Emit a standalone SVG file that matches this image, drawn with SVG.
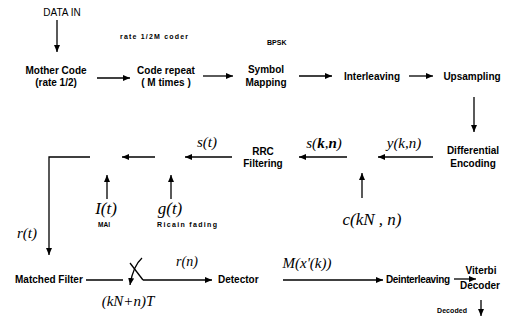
<svg xmlns="http://www.w3.org/2000/svg" width="505" height="322" viewBox="0 0 505 322">
  <defs>
    <marker id="ah" markerUnits="userSpaceOnUse" markerWidth="8" markerHeight="6" refX="7" refY="3" orient="auto">
      <path d="M0,0 L7,3 L0,6 z" fill="#000"/>
    </marker>
    <style>
      .b { font-family: "Liberation Sans", Arial, sans-serif; font-weight: bold; font-size: 10px; fill: #000; }
      .r { font-family: "Liberation Sans", Arial, sans-serif; font-size: 10px; fill: #000; }
      .s { font-family: "Liberation Sans", Arial, sans-serif; font-weight: bold; font-size: 7px; fill: #000; }
      .m { font-family: "Liberation Serif", "Times New Roman", serif; font-style: italic; font-size: 15px; fill: #000; }
      .c { text-anchor: middle; }
      .ln { stroke: #000; stroke-width: 1.3; fill: none; }
      .ar { stroke: #000; stroke-width: 1.3; fill: none; marker-end: url(#ah); }
    </style>
  </defs>
  <rect width="505" height="322" fill="#fff"/>

  <!-- free-standing labels -->
  <text class="r c" x="62" y="16">DATA IN</text>
  <text class="s" x="120" y="39" textLength="68">rate 1/2M coder</text>
  <text class="s" x="267" y="45">BPSK</text>

  <!-- transmitter chain -->
  <g id="mother-code"><text class="b c" x="56" y="74">Mother Code</text><text class="b c" x="56" y="86">(rate 1/2)</text></g>
  <g id="code-repeat"><text class="b c" x="166" y="74">Code repeat</text><text class="b c" x="166" y="86">( M times )</text></g>
  <g id="symbol-mapping"><text class="b c" x="266" y="73">Symbol</text><text class="b c" x="266" y="86">Mapping</text></g>
  <g id="interleaving"><text class="b c" x="372" y="80">Interleaving</text></g>
  <g id="upsampling"><text class="b c" x="472" y="80">Upsampling</text></g>
  <g id="differential-encoding"><text class="b c" x="473" y="154">Differential</text><text class="b c" x="473" y="167">Encoding</text></g>
  <g id="rrc-filtering"><text class="b c" x="263" y="155">RRC</text><text class="b c" x="263" y="167">Filtering</text></g>

  <!-- channel inputs -->
  <g id="mai"><text class="m c" x="106" y="214" style="font-size:17px">I(t)</text><text class="s c" x="104" y="227" style="font-size:6.5px">MAI</text></g>
  <g id="fading"><text class="m c" x="170" y="214" style="font-size:17px">g(t)</text><text class="s" x="157" y="227" textLength="60">Ricain fading</text></g>
  <g id="spreading"><text class="m c" x="372" y="225" style="font-size:17px">c(kN , n)</text></g>

  <!-- receiver chain -->
  <g id="matched-filter"><text class="b" x="15" y="283">Matched Filter</text></g>
  <g id="detector"><text class="b" x="218" y="283">Detector</text></g>
  <g id="deinterleaving"><text class="b" x="386" y="283" textLength="64">Deinterleaving</text></g>
  <g id="viterbi-decoder"><text class="b c" x="481" y="274">Viterbi</text><text class="b c" x="480" y="289">Decoder</text></g>
  <text class="s" x="437" y="313" textLength="30">Decoded</text>

  <!-- signal labels -->
  <text class="m c" x="207" y="147">s(t)</text>
  <text class="m c" x="324" y="148">s(<tspan font-weight="bold">k</tspan>,<tspan font-weight="bold">n</tspan>)</text>
  <text class="m c" x="404" y="148">y(k,n)</text>
  <text class="m c" x="27" y="238">r(t)</text>
  <text class="m c" x="187" y="266" style="font-size:14px">r(n)</text>
  <text class="m c" x="128" y="306">(kN+n)T</text>
  <text class="m c" x="307" y="268">M(x'(k))</text>

  <g id="connectors">
    <line class="ar" x1="57" y1="20" x2="57" y2="52"/>
    <line class="ar" x1="97" y1="78" x2="130" y2="78"/>
    <line class="ar" x1="203" y1="76" x2="233" y2="76"/>
    <line class="ar" x1="299" y1="76" x2="332" y2="76"/>
    <line class="ar" x1="409" y1="76" x2="433" y2="76"/>
    <line class="ar" x1="474" y1="97" x2="474" y2="132"/>
    <line class="ar" x1="433" y1="157" x2="378" y2="157"/>
    <line class="ar" x1="347" y1="157" x2="299" y2="157"/>
    <line class="ar" x1="232" y1="157" x2="185" y2="157"/>
    <line class="ar" x1="155" y1="157" x2="122" y2="157"/>
    <polyline class="ar" points="90,157 49,157 49,255"/>
    <line class="ar" x1="107" y1="199" x2="107" y2="175"/>
    <line class="ar" x1="171" y1="199" x2="171" y2="175"/>
    <line class="ar" x1="362" y1="198" x2="362" y2="173"/>
    <line class="ln" x1="86" y1="280" x2="123" y2="280"/>
    <!-- sampling switch -->
    <line class="ln" x1="130" y1="263" x2="143" y2="280"/>
    <path class="ar" d="M142,258 Q133,266 130,285"/>
    <line class="ar" x1="143" y1="280" x2="212" y2="280"/>
    <line class="ar" x1="283" y1="280" x2="383" y2="280"/>
    <line class="ar" x1="454" y1="279" x2="476" y2="279"/>
    <line class="ar" x1="481" y1="300" x2="481" y2="316"/>
  </g>
</svg>
